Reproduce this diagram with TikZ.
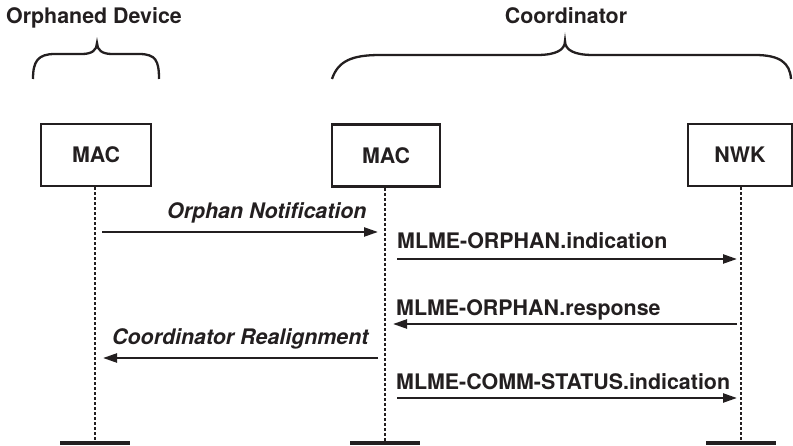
\documentclass[tikz,border=0pt]{standalone}
\usepackage{fontspec}
\setmainfont{TeX Gyre Heros}
\usetikzlibrary{arrows.meta}
\definecolor{ink}{HTML}{231F20}
\begin{document}
\begin{tikzpicture}[x=1pt,y=-1pt, color=ink,
  lbl/.style={font=\fontsize{21.4}{25}\selectfont\bfseries, inner sep=0pt},
  ilbl/.style={font=\fontsize{21.4}{25}\selectfont\bfseries\itshape, inner sep=0pt},
  layer/.style={draw, line width=2.7pt, minimum height=62pt, inner sep=0pt, font=\fontsize{21.4}{25}\selectfont\bfseries},
  life/.style={line width=2.5pt, dash pattern=on 3pt off 2pt},
  bar/.style={line width=3.5pt},
  msg/.style={line width=2.3pt, -{Triangle[length=14pt,width=9pt]}},
  brace/.style={line width=2.3pt}]
\useasboundingbox (0,0) rectangle (793,446);

% titles
\node[lbl, anchor=base west] (tOD) at (6,24) {Orphaned Device};
\node[lbl, anchor=base] (tCO) at (566,24) {Coordinator};

% braces
\draw[brace] (33,79) .. controls (33,61) and (38,54) .. (55,54) -- (82,54)
  .. controls (92,54) and (97,50) .. (97,43)
  .. controls (97,50) and (102,54) .. (112,54) -- (139,54)
  .. controls (156,54) and (159,61) .. (159,79);
\draw[brace] (332,79) .. controls (338,61) and (352,55) .. (380,55) -- (537,55)
  .. controls (556,55) and (565,50) .. (565,41)
  .. controls (565,50) and (574,55) .. (593,55) -- (755,55)
  .. controls (780,55) and (790,63) .. (791,79);

% layer boxes
\node[layer, minimum width=110pt] (mac1) at (96,155) {MAC};
\node[layer, minimum width=108pt] (mac2) at (386,155.5) {MAC};
\node[layer, minimum width=104pt] (nwk) at (740,155) {NWK};

% lifeline ends
\coordinate (e1) at (95,443);
\coordinate (e2) at (385,443);
\coordinate (e3) at (741,443);
\draw[life] (mac1.south -| e1) -- (e1);
\draw[life] (mac2.south -| e2) -- (e2);
\draw[life] (nwk.south -| e3) -- (e3);
\draw[bar] ([xshift=-35pt]e1) -- ([xshift=35pt]e1);
\draw[bar] ([xshift=-35pt]e2) -- ([xshift=35pt]e2);
\draw[bar] ([xshift=-35pt]e3) -- ([xshift=35pt]e3);

% message end points
\coordinate (m1a) at (102,232); \coordinate (m1b) at (378,232);
\coordinate (m2a) at (397,259); \coordinate (m2b) at (737,259);
\coordinate (m3a) at (737,324); \coordinate (m3b) at (393,324);
\coordinate (m4a) at (378,358); \coordinate (m4b) at (103,358);
\coordinate (m5a) at (397,398); \coordinate (m5b) at (737,398);

\draw[msg] (m1a) -- (m1b);
\draw[msg] (m2a) -- (m2b);
\draw[msg] (m3a) -- (m3b);
\draw[msg] (m4a) -- (m4b);
\draw[msg] (m5a) -- (m5b);

% labels
\node[ilbl, anchor=base west] (l1) at (167,219) {Orphan Notification};
\node[lbl, anchor=base west] (l2) at (397,249) {MLME-ORPHAN.indication};
\node[lbl, anchor=base west] (l3) at (396,315.5) {MLME-ORPHAN.response};
\node[ilbl, anchor=base west] (l4) at (112,345) {Coordinator Realignment};
\node[lbl, anchor=base west] (l5) at (396,390) {MLME-COMM-STATUS.indication};
\end{tikzpicture}
\end{document}
